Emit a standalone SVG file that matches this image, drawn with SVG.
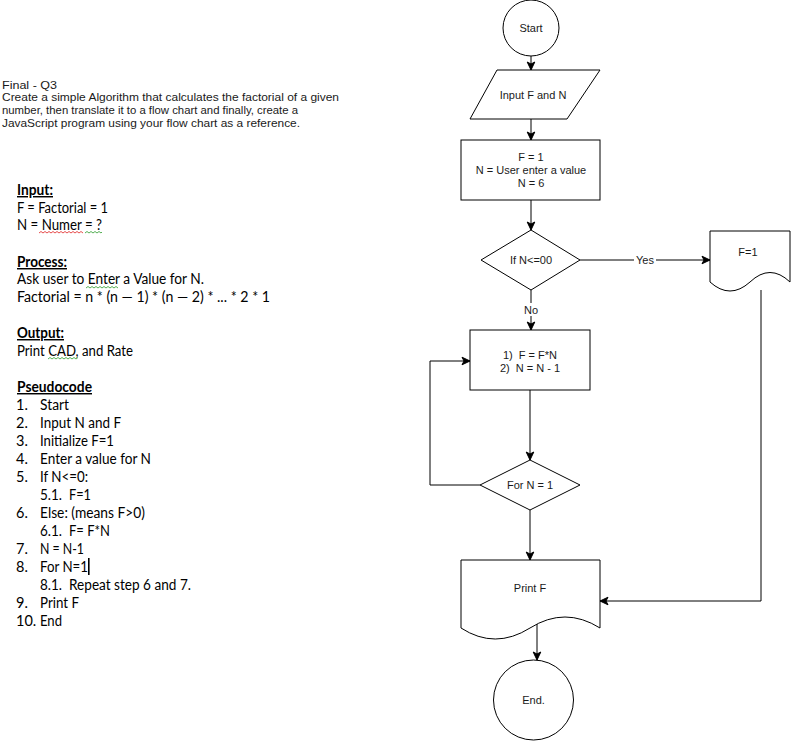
<svg xmlns="http://www.w3.org/2000/svg" width="791" height="741" viewBox="0 0 791 741">
  <style>
    .shape { fill: #ffffff; stroke: #000000; stroke-width: 1; }
    .fc { font-family: "Liberation Sans", Arial, sans-serif; font-size: 11px; fill: #1a1a1a; text-anchor: middle; white-space: pre; }
    .note { font-family: "Liberation Sans", Arial, sans-serif; font-size: 11.5px; fill: #1a1a1a; }
    .doc { font-family: Lato, "Open Sans", sans-serif; font-size: 14.5px; fill: #000000; }
    .hd { font-weight: bold; text-decoration: underline; }
    .edge { fill: none; stroke: #000000; stroke-width: 1; }
    .lbl { font-family: "Liberation Sans", Arial, sans-serif; font-size: 11px; fill: #1a1a1a; text-anchor: middle; }
    .sq { fill: none; stroke-width: 0.8; }
  </style>
  <defs>
    <marker id="arrow" markerUnits="userSpaceOnUse" markerWidth="10" markerHeight="10" refX="9" refY="5" orient="auto">
      <path d="M1,1.2 L9,5 L1,8.8 L3,5 Z" fill="#000000" stroke="#000000" stroke-width="1"/>
    </marker>
  </defs>

  <rect x="0" y="0" width="791" height="741" fill="#ffffff"/>

  <!-- Assignment statement -->
  <g id="task-text" class="note">
    <text x="2" y="89" textLength="55" lengthAdjust="spacingAndGlyphs">Final - Q3</text>
    <text x="2" y="101" textLength="337" lengthAdjust="spacingAndGlyphs">Create a simple Algorithm that calculates the factorial of a given</text>
    <text x="2" y="114" textLength="296" lengthAdjust="spacingAndGlyphs">number, then translate it to a flow chart and finally, create a</text>
    <text x="2" y="127" textLength="298" lengthAdjust="spacingAndGlyphs">JavaScript program using your flow chart as a reference.</text>
  </g>

  <!-- Input / Process / Output notes -->
  <g id="ipo-text" class="doc">
    <text x="17" y="195" class="hd" textLength="36" lengthAdjust="spacingAndGlyphs">Input:</text>
    <text x="17" y="213" textLength="91" lengthAdjust="spacingAndGlyphs">F = Factorial = 1</text>
    <text x="17" y="230" textLength="85" lengthAdjust="spacingAndGlyphs">N = Numer = ?</text>
    <text x="17" y="267" class="hd" textLength="50" lengthAdjust="spacingAndGlyphs">Process:</text>
    <text x="17" y="284" textLength="187" lengthAdjust="spacingAndGlyphs">Ask user to Enter a Value for N.</text>
    <text x="17" y="302" textLength="253" lengthAdjust="spacingAndGlyphs">Factorial = n * (n — 1) * (n — 2) * ... * 2 * 1</text>
    <text x="17" y="338" class="hd" textLength="47" lengthAdjust="spacingAndGlyphs">Output:</text>
    <text x="17" y="356" textLength="116" lengthAdjust="spacingAndGlyphs">Print CAD, and Rate</text>
  </g>

  <!-- spell-check squiggles -->
  <g id="squiggles">
    <path class="sq" stroke="#e02020" d="M39,233 l2,-1.5 l2,1.5 l2,-1.5 l2,1.5 l2,-1.5 l2,1.5 l2,-1.5 l2,1.5 l2,-1.5 l2,1.5 l2,-1.5 l2,1.5 l2,-1.5 l2,1.5 l2,-1.5 l2,1.5 l2,-1.5 l2,1.5 l2,-1.5 l2,1.5 l2,-1.5 l2,1.5"/>
    <path class="sq" stroke="#2a9a2a" d="M85,233 l2,-1.5 l2,1.5 l2,-1.5 l2,1.5 l2,-1.5 l2,1.5 l2,-1.5 l2,1.5 l1,-1"/>
    <path class="sq" stroke="#2a9a2a" d="M86,288 l2,-1.5 l2,1.5 l2,-1.5 l2,1.5 l2,-1.5 l2,1.5 l2,-1.5 l2,1.5 l2,-1.5 l2,1.5 l2,-1.5 l2,1.5 l2,-1.5 l2,1.5 l2,-1.5 l2,1.5"/>
    <path class="sq" stroke="#2a9a2a" d="M48,359 l2,-1.5 l2,1.5 l2,-1.5 l2,1.5 l2,-1.5 l2,1.5 l2,-1.5 l2,1.5 l2,-1.5 l2,1.5 l2,-1.5 l2,1.5 l2,-1.5 l2,1.5 l2,-1.5"/>
  </g>

  <!-- Pseudocode list -->
  <g id="pseudocode" class="doc">
    <text x="17" y="392" class="hd" textLength="75" lengthAdjust="spacingAndGlyphs">Pseudocode</text>
    <text x="16" y="410">1.</text><text x="40" y="410" textLength="29" lengthAdjust="spacingAndGlyphs">Start</text>
    <text x="16" y="428">2.</text><text x="40" y="428" textLength="81" lengthAdjust="spacingAndGlyphs">Input N and F</text>
    <text x="16" y="446">3.</text><text x="40" y="446" textLength="74" lengthAdjust="spacingAndGlyphs">Initialize F=1</text>
    <text x="16" y="464">4.</text><text x="40" y="464" textLength="111" lengthAdjust="spacingAndGlyphs">Enter a value for N</text>
    <text x="16" y="482">5.</text><text x="40" y="482" textLength="48" lengthAdjust="spacingAndGlyphs">If N&lt;=0:</text>
    <text x="40" y="500" textLength="22" lengthAdjust="spacingAndGlyphs">5.1.</text><text x="69" y="500" textLength="22" lengthAdjust="spacingAndGlyphs">F=1</text>
    <text x="16" y="518">6.</text><text x="40" y="518" textLength="105" lengthAdjust="spacingAndGlyphs">Else: (means F&gt;0)</text>
    <text x="40" y="536" textLength="22" lengthAdjust="spacingAndGlyphs">6.1.</text><text x="69" y="536" textLength="41" lengthAdjust="spacingAndGlyphs">F= F*N</text>
    <text x="16" y="554">7.</text><text x="40" y="554" textLength="44" lengthAdjust="spacingAndGlyphs">N = N-1</text>
    <text x="16" y="572">8.</text><text x="40" y="572" textLength="48" lengthAdjust="spacingAndGlyphs">For N=1</text>
    <text x="40" y="590" textLength="22" lengthAdjust="spacingAndGlyphs">8.1.</text><text x="69" y="590" textLength="122" lengthAdjust="spacingAndGlyphs">Repeat step 6 and 7.</text>
    <text x="16" y="608">9.</text><text x="40" y="608" textLength="39" lengthAdjust="spacingAndGlyphs">Print F</text>
    <text x="16" y="626">10.</text><text x="40" y="626" textLength="22" lengthAdjust="spacingAndGlyphs">End</text>
    <!-- text caret -->
    <rect x="88" y="558" width="1.6" height="17" fill="#000000"/>
  </g>

  <!-- Connectors -->
  <g id="connectors">
    <path class="edge" d="M531,56 L531,70" marker-end="url(#arrow)"/>
    <path class="edge" d="M531,119 L531,140" marker-end="url(#arrow)"/>
    <path class="edge" d="M531,200 L531,230" marker-end="url(#arrow)"/>
    <path class="edge" d="M580,260 L710,260" marker-end="url(#arrow)"/>
    <path class="edge" d="M531,290 L531,330" marker-end="url(#arrow)"/>
    <path class="edge" d="M530,390 L530,460" marker-end="url(#arrow)"/>
    <path class="edge" d="M480,485 L430,485 L430,361 L470,361" marker-end="url(#arrow)"/>
    <path class="edge" d="M530,510 L530,560" marker-end="url(#arrow)"/>
    <path class="edge" d="M761,290 L761,601 L600,601" marker-end="url(#arrow)"/>
    <path class="edge" d="M537,624 L537,660" marker-end="url(#arrow)"/>
    <rect x="634" y="253" width="22" height="13" fill="#ffffff"/>
    <text class="lbl" x="645" y="264">Yes</text>
    <rect x="522" y="303" width="18" height="13" fill="#ffffff"/>
    <text class="lbl" x="531" y="314">No</text>
  </g>

  <!-- Flowchart nodes -->
  <g id="start">
    <circle class="shape" cx="531" cy="28" r="28"/>
    <text class="fc" x="531" y="32">Start</text>
  </g>
  <g id="input">
    <polygon class="shape" points="497,70 600,70 567,119 470,119"/>
    <text class="fc" x="533" y="99">Input F and N</text>
  </g>
  <g id="init">
    <rect class="shape" x="461" y="140" width="139" height="60"/>
    <text class="fc" x="531" y="161">F = 1</text>
    <text class="fc" x="531" y="174">N = User enter a value</text>
    <text class="fc" x="531" y="187">N = 6</text>
  </g>
  <g id="check">
    <polygon class="shape" points="531,230 580,260 531,290 481,260"/>
    <text class="fc" x="531" y="264">If N&lt;=00</text>
  </g>
  <g id="set-one">
    <path class="shape" d="M710,231 L790,231 L790,282 Q770,263 750,282 Q730,300 710,282 Z"/>
    <text class="fc" x="748" y="256">F=1</text>
  </g>
  <g id="multiply">
    <rect class="shape" x="470" y="330" width="120" height="60"/>
    <text class="fc" x="530" y="359" xml:space="preserve">1)  F = F*N</text>
    <text class="fc" x="530" y="372" xml:space="preserve">2)  N = N - 1</text>
  </g>
  <g id="loop-check">
    <polygon class="shape" points="530,460 580,485 530,510 480,485"/>
    <text class="fc" x="530" y="489">For N = 1</text>
  </g>
  <g id="print">
    <path class="shape" d="M461,560 L600,560 L600,628 Q565,606 530,628 Q495,650 461,628 Z"/>
    <text class="fc" x="530" y="592">Print F</text>
  </g>
  <g id="end">
    <circle class="shape" cx="533.5" cy="700" r="40"/>
    <text class="fc" x="533.5" y="704">End.</text>
  </g>
</svg>
